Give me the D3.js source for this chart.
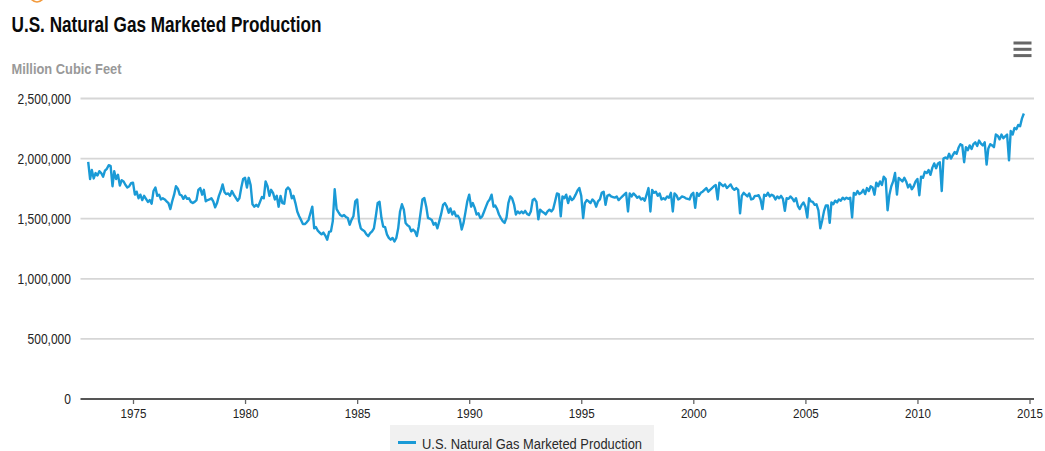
<!DOCTYPE html>
<html lang="en">
<head>
<meta charset="utf-8">
<script src="https://d3js.org/d3.v7.min.js"></script>
<style>
  body { margin: 0; background: #fff; }
  svg { display: block; font-family: "Liberation Sans", Arial, sans-serif; }
</style>
</head>
<body>
<svg id="chart" width="1045" height="451"></svg>
<script>
// monthly marketed production, thousand MMcf (Jan..Dec), starting Jan 1973
var firstYear = 1973;
var prod1970s = [
  1972, 1830, 1905, 1835, 1880, 1860, 1895, 1880, 1850, 1900, 1915, 1945, // 1973
  1940, 1770, 1895, 1830, 1865, 1775, 1820, 1810, 1780, 1760, 1770, 1795, // 1974
  1800, 1700, 1725, 1670, 1700, 1655, 1690, 1665, 1640, 1655, 1625, 1730, // 1975
  1760, 1690, 1700, 1660, 1670, 1660, 1645, 1630, 1580, 1645, 1700, 1770, // 1976
  1750, 1700, 1695, 1665, 1690, 1665, 1670, 1640, 1630, 1640, 1655, 1740, // 1977
  1755, 1700, 1740, 1645, 1655, 1660, 1670, 1645, 1595, 1630, 1690, 1730, // 1978
  1785, 1720, 1705, 1710, 1690, 1730, 1700, 1675, 1650, 1670, 1760, 1830  // 1979
];
var prod1980s = [
  1840, 1760, 1840, 1780, 1620, 1600, 1615, 1600, 1640, 1680, 1670, 1810, // 1980
  1770, 1690, 1740, 1715, 1660, 1690, 1600, 1690, 1630, 1625, 1740, 1760, // 1981
  1740, 1670, 1690, 1630, 1560, 1520, 1490, 1455, 1455, 1470, 1490, 1545, // 1982
  1600, 1420, 1430, 1400, 1385, 1370, 1385, 1360, 1325, 1390, 1395, 1480, // 1983
  1745, 1580, 1555, 1530, 1520, 1530, 1515, 1505, 1450, 1490, 1520, 1645, // 1984
  1660, 1480, 1420, 1405, 1395, 1370, 1355, 1380, 1395, 1420, 1520, 1630, // 1985
  1640, 1505, 1435, 1430, 1370, 1340, 1325, 1340, 1310, 1340, 1420, 1560, // 1986
  1620, 1575, 1465, 1445, 1435, 1395, 1410, 1395, 1355, 1435, 1550, 1660, // 1987
  1672, 1600, 1505, 1500, 1490, 1450, 1465, 1420, 1480, 1540, 1615, 1630, // 1988
  1600, 1550, 1585, 1535, 1560, 1520, 1525, 1495, 1410, 1465, 1555, 1645  // 1989
];
var prod1990s = [
  1700, 1600, 1630, 1590, 1535, 1545, 1505, 1520, 1560, 1600, 1640, 1660, // 1990
  1700, 1600, 1610, 1580, 1535, 1505, 1480, 1465, 1510, 1630, 1685, 1670, // 1991
  1620, 1535, 1560, 1545, 1560, 1545, 1565, 1540, 1530, 1560, 1655, 1665, // 1992
  1640, 1495, 1575, 1560, 1550, 1535, 1560, 1575, 1560, 1580, 1645, 1710, // 1993
  1705, 1520, 1685, 1670, 1700, 1630, 1685, 1655, 1670, 1700, 1735, 1755, // 1994
  1690, 1505, 1630, 1655, 1645, 1630, 1660, 1645, 1600, 1645, 1660, 1715, // 1995
  1725, 1615, 1690, 1700, 1685, 1680, 1675, 1685, 1655, 1670, 1685, 1700, // 1996
  1715, 1560, 1710, 1685, 1710, 1695, 1675, 1685, 1660, 1670, 1650, 1700, // 1997
  1755, 1560, 1740, 1715, 1725, 1690, 1710, 1660, 1670, 1660, 1685, 1675, // 1998
  1715, 1560, 1710, 1695, 1660, 1670, 1685, 1680, 1670, 1665, 1660, 1700  // 1999
];
var prod2000s = [
  1715, 1590, 1715, 1690, 1715, 1725, 1740, 1755, 1725, 1740, 1755, 1770, // 2000
  1780, 1660, 1800, 1785, 1770, 1785, 1755, 1770, 1785, 1755, 1740, 1755, // 2001
  1740, 1545, 1690, 1715, 1700, 1685, 1710, 1660, 1665, 1690, 1690, 1695, // 2002
  1660, 1580, 1700, 1690, 1715, 1685, 1700, 1690, 1660, 1685, 1670, 1690, // 2003
  1665, 1565, 1670, 1665, 1685, 1670, 1645, 1670, 1605, 1580, 1615, 1635, // 2004
  1600, 1510, 1670, 1645, 1640, 1615, 1620, 1570, 1420, 1485, 1565, 1610, // 2005
  1610, 1465, 1635, 1620, 1650, 1635, 1660, 1650, 1675, 1660, 1675, 1665, // 2006
  1675, 1510, 1715, 1700, 1730, 1705, 1715, 1740, 1705, 1755, 1730, 1770, // 2007
  1760, 1700, 1800, 1770, 1810, 1780, 1850, 1830, 1570, 1700, 1770, 1810, // 2008
  1880, 1700, 1840, 1825, 1810, 1840, 1810, 1760, 1785, 1745, 1770, 1810  // 2009
];
var prod2010s = [
  1830, 1695, 1850, 1840, 1890, 1880, 1905, 1865, 1925, 1960, 1920, 1960, // 2010
  1970, 1730, 2000, 2010, 2000, 2040, 2000, 2030, 2055, 2040, 2090, 2120, // 2011
  2110, 1970, 2095, 2070, 2110, 2080, 2120, 2135, 2105, 2150, 2125, 2110, // 2012
  2135, 1950, 2085, 2120, 2110, 2095, 2200, 2190, 2160, 2200, 2170, 2185, // 2013
  2200, 1985, 2230, 2200, 2255, 2245, 2280, 2270, 2335, 2375              // 2014
];
var yTicks = [0, 500000, 1000000, 1500000, 2000000, 2500000];
var xTickYears = [1975, 1980, 1985, 1990, 1995, 2000, 2005, 2010, 2015];

var titleText = "U.S. Natural Gas Marketed Production";
var unitText = "Million Cubic Feet";
var seriesName = "U.S. Natural Gas Marketed Production";

var plotLeft = 80.5, plotRight = 1034;
var lineColor = "#1a9ad6";

var series = [].concat(prod1970s, prod1980s, prod1990s, prod2000s, prod2010s)
  .map(function(v, i) {
    return { date: new Date(firstYear, i, 1), value: v * 1000 };
  });

var svg = d3.select("#chart");

var x = d3.scaleTime()
  .domain([new Date(1975, 0, 1), new Date(2015, 0, 1)])
  .range([133, 1029.5]);
var y = d3.scaleLinear()
  .domain([0, 2500000])
  .range([399, 98.5]);

// cut-off orange glyph at the very top
svg.append("path")
  .attr("d", "M31,-1 Q37,5 43,-1")
  .attr("fill", "none")
  .attr("stroke", "#f39a3c")
  .attr("stroke-width", 1.6);

// title + unit
svg.append("text")
  .attr("x", 11.5).attr("y", 31.5)
  .attr("font-size", 21.5).attr("font-weight", "bold")
  .attr("fill", "#0a0a0a")
  .attr("textLength", 310).attr("lengthAdjust", "spacingAndGlyphs")
  .text(titleText);

svg.append("text")
  .attr("x", 11.5).attr("y", 74)
  .attr("font-size", 14).attr("font-weight", "bold")
  .attr("fill", "#999")
  .attr("textLength", 110).attr("lengthAdjust", "spacingAndGlyphs")
  .text(unitText);

// menu icon
svg.append("g").selectAll("rect")
  .data([0, 1, 2]).enter().append("rect")
  .attr("x", 1013.5).attr("width", 18).attr("height", 3)
  .attr("y", function(d) { return 41.5 + d * 6.3; })
  .attr("fill", "#666");

// gridlines
svg.append("g").selectAll("line")
  .data(yTicks.slice(1)).enter().append("line")
  .attr("x1", plotLeft).attr("x2", plotRight)
  .attr("y1", function(d) { return y(d); })
  .attr("y2", function(d) { return y(d); })
  .attr("stroke", "#d6d6d6").attr("stroke-width", 1.8);

// y labels
svg.append("g").selectAll("text")
  .data(yTicks).enter().append("text")
  .attr("transform", function(d) { return "translate(71," + (y(d) + 5) + ") scale(0.86,1)"; })
  .attr("text-anchor", "end")
  .attr("font-size", 14)
  .attr("fill", "#222")
  .text(d3.format(","));

// x axis
var xAxis = d3.axisBottom(x)
  .tickValues(xTickYears.map(function(yr) { return new Date(yr, 0, 1); }))
  .tickFormat(d3.timeFormat("%Y"))
  .tickSize(5)
  .tickSizeOuter(0)
  .tickPadding(4);

var gx = svg.append("g")
  .attr("transform", "translate(0,399)")
  .call(xAxis);
gx.select(".domain").remove();
gx.selectAll(".tick line").attr("stroke", "#666").attr("stroke-width", 1.3);
gx.selectAll(".tick text")
  .attr("font-size", 13.5)
  .attr("font-family", "\"Liberation Sans\", Arial, sans-serif")
  .attr("fill", "#222")
  .attr("transform", "scale(0.86,1)");

svg.append("line")
  .attr("x1", plotLeft).attr("x2", plotRight)
  .attr("y1", 399).attr("y2", 399)
  .attr("stroke", "#555").attr("stroke-width", 2);

// series line
var line = d3.line()
  .x(function(d) { return x(d.date); })
  .y(function(d) { return y(d.value); });

svg.append("path")
  .datum(series)
  .attr("d", line)
  .attr("fill", "none")
  .attr("stroke", lineColor)
  .attr("stroke-width", 2.4)
  .attr("stroke-linejoin", "round");

// legend
var legend = svg.append("g").attr("transform", "translate(390,425)");
legend.append("rect")
  .attr("width", 264).attr("height", 30)
  .attr("fill", "#f1f1f1");
legend.append("line")
  .attr("x1", 8).attr("x2", 26)
  .attr("y1", 17.5).attr("y2", 17.5)
  .attr("stroke", lineColor).attr("stroke-width", 3);
legend.append("text")
  .attr("x", 32).attr("y", 23.5)
  .attr("font-size", 14)
  .attr("fill", "#2a2a2a")
  .attr("textLength", 220).attr("lengthAdjust", "spacingAndGlyphs")
  .text(seriesName);
</script>
</body>
</html>
